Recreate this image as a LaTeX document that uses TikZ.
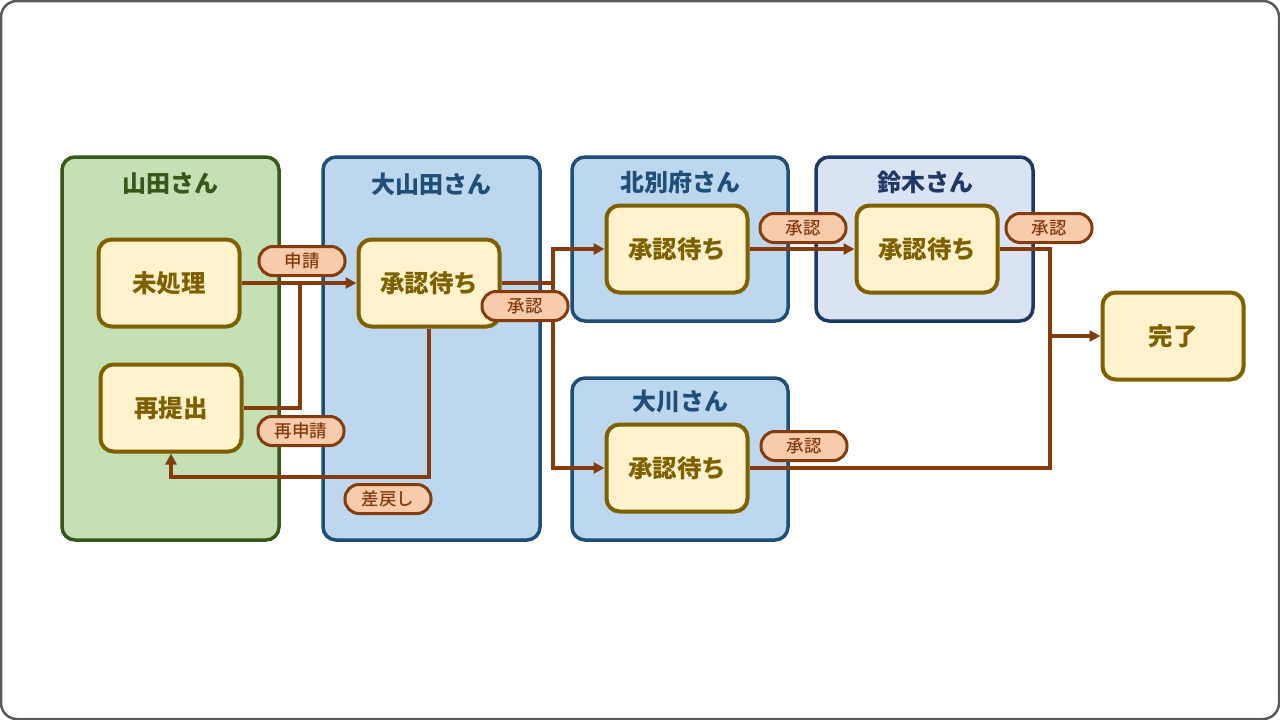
\documentclass[tikz,border=0pt]{standalone}
\usepackage{fontspec}
\setmainfont{Noto Sans CJK JP}
\newfontfamily\tagfont{Noto Sans CJK JP Medium}
\usetikzlibrary{arrows.meta, positioning}
\definecolor{laneGreen}{HTML}{C5E0B4}
\definecolor{laneGreenInk}{HTML}{38571A}
\definecolor{laneBlue}{HTML}{BDD7EE}
\definecolor{laneBlueInk}{HTML}{1F4E79}
\definecolor{laneLilac}{HTML}{DAE3F3}
\definecolor{laneNavy}{HTML}{203864}
\definecolor{stepFill}{HTML}{FFF2CC}
\definecolor{stepInk}{HTML}{7F6000}
\definecolor{tagFill}{HTML}{F8CBAD}
\definecolor{flowInk}{HTML}{843C0C}

\begin{document}
\begin{tikzpicture}[x=1pt, y=-1pt,
      lane/.style={rounded corners=13pt, line width=3.5pt, minimum height=#1, inner sep=0pt},
      lanetitle/.style={font=\fontsize{24}{28}\selectfont\bfseries},
      state/.style={rounded corners=13pt, draw=stepInk, fill=stepFill, line width=4pt, minimum width=141pt,
      minimum height=87pt, font=\fontsize{24.5}{29}\selectfont\bfseries, text=stepInk},
      tag/.style={rounded corners=14pt, draw=flowInk, fill=tagFill, line width=3pt, minimum width=86pt,
      minimum height=29pt, inner sep=0pt, font=\fontsize{17.5}{21}\tagfont, text=flowInk},
      flow/.style={draw=flowInk, line width=3.5pt, -{Triangle[length=11pt, width=11pt]}},
      link/.style={draw=flowInk, line width=3.5pt}
    ]
    \useasboundingbox (0,0) rectangle (1280,720);
    \draw[draw=black!65, line width=2.5pt, fill=white, rounded corners=16pt] (1,1) rectangle (1279,719);

    % lanes
    \node[lane=383pt, minimum width=217pt, draw=laneGreenInk, fill=laneGreen] (yamada) at (170.5,348.5) {};
    \node[lane=383pt, minimum width=217pt, draw=laneBlueInk, fill=laneBlue] (oyamadaLane) at (431.5,348.5) {};
    \node[lane=164pt, minimum width=216pt, draw=laneBlueInk, fill=laneBlue] (kitabeppuLane) at (680,239) {};
    \node[lane=164pt, minimum width=217pt, draw=laneNavy, fill=laneLilac] (suzukiLane) at (924.5,239) {};
    \node[lane=162pt, minimum width=216pt, draw=laneBlueInk, fill=laneBlue] (okawaLane) at (680,459) {};

    \node[lanetitle, text=laneGreenInk] at (170,184) {山田さん};
    \node[lanetitle, text=laneBlueInk] at (431,184) {大山田さん};
    \node[lanetitle, text=laneBlueInk] at (680,182) {北別府さん};
    \node[lanetitle, text=laneNavy] at (925,182) {鈴木さん};
    \node[lanetitle, text=laneBlueInk] at (680,401) {大川さん};

    % steps
    \node[state] (mishori) at (169,283) {未処理};
    \node[state] (saiteishutsu) at (171,408) {再提出};
    \node[state] (oyamada) at (429,283) {承認待ち};
    \node[state] (kitabeppu) at (677,249) {承認待ち};
    \node[state] (suzuki) at (927,249) {承認待ち};
    \node[state] (okawa) at (677,468) {承認待ち};
    \node[state] (kanryo) at (1173,336) {完了};

    \coordinate (rejoin) at (300,283);
    \coordinate (sendback) at (429,477);
    \coordinate (split) at (553,283);
    \coordinate (merge) at (1050,336);

    % connectors
    \draw[flow] (mishori.east) -- (oyamada.west);
    \draw[link] (saiteishutsu.east) -| (rejoin);
    \draw[flow] (oyamada.south) -- (sendback) -| (saiteishutsu.south);
    \draw[link] (oyamada.east) -- (split);
    \draw[flow] (split) |- (kitabeppu.west);
    \draw[flow] (split) |- (okawa.west);
    \draw[flow] (kitabeppu.east) -- (suzuki.west);
    \draw[link] (suzuki.east) -| (merge);
    \draw[link] (okawa.east) -| (merge);
    \draw[flow] (merge) -- (kanryo.west);

    % labels
    \node[tag] (shinsei) at (302,261) {申請};
    \node[tag] (saishinsei) at (301,431) {再申請};
    \node[tag] (sashimodoshi) at (388,499) {差戻し};
    \node[tag] (shonin1) at (525,306) {承認};
    \node[tag] (shonin2) at (803,228) {承認};
    \node[tag] (shonin3) at (1049,228) {承認};
    \node[tag] (shonin4) at (804,446) {承認};
  \end{tikzpicture}
\end{document}
